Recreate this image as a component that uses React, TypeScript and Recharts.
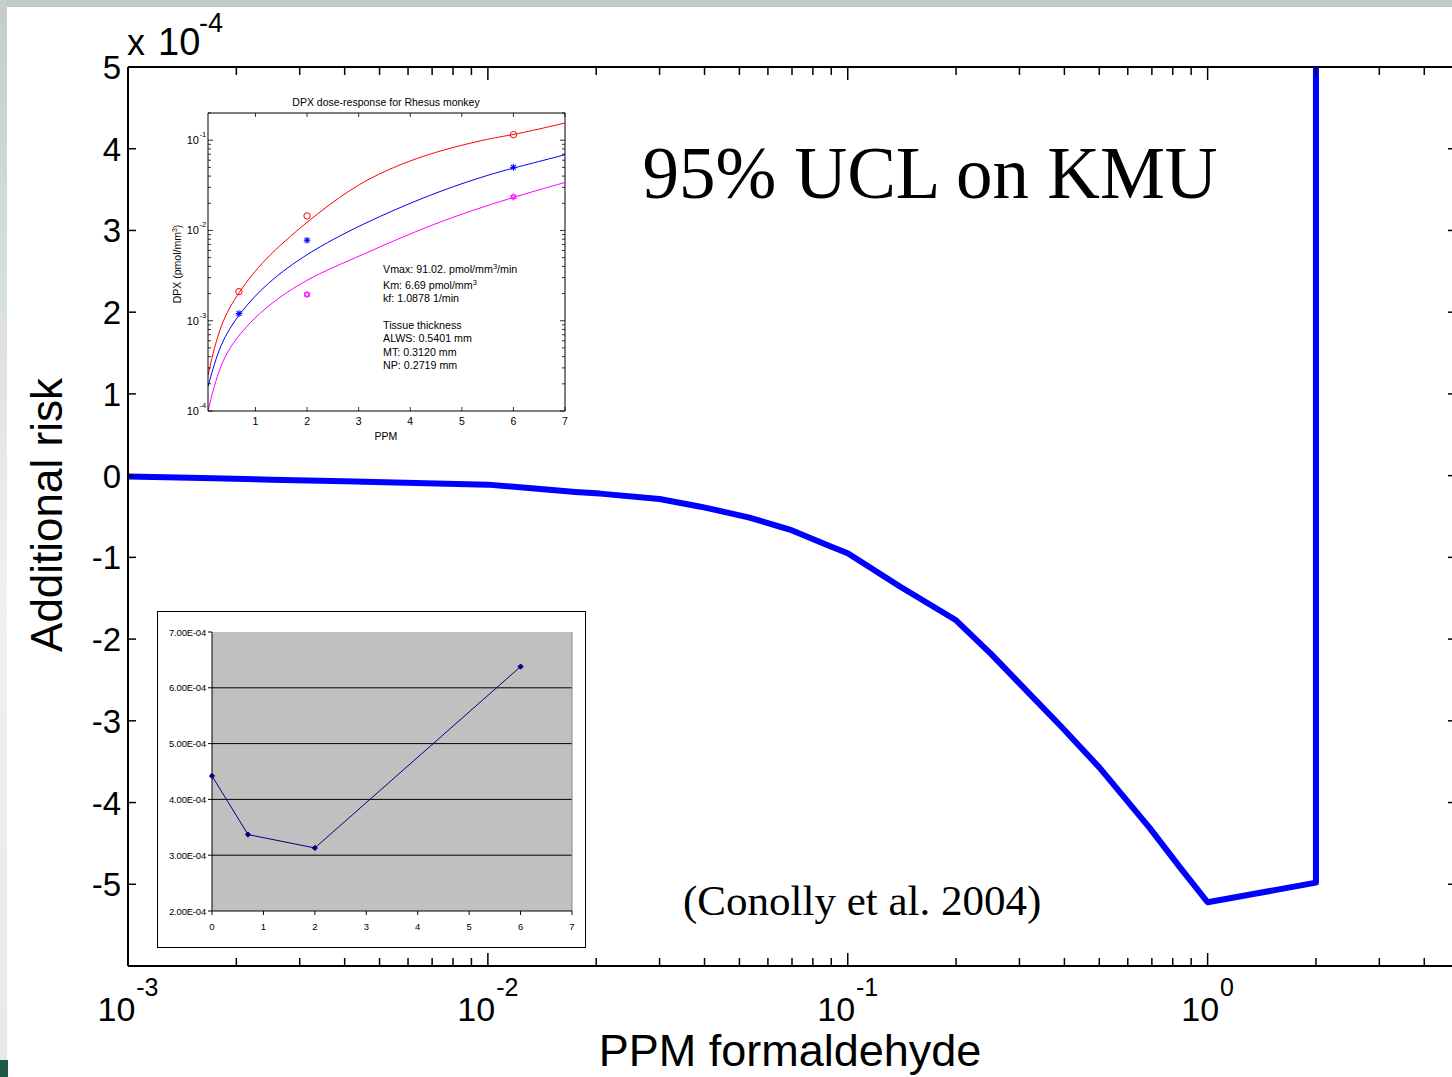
import React from 'react';
import { LineChart, Line, XAxis, YAxis, ReferenceLine, CartesianGrid } from 'recharts';

const SANS = '"Liberation Sans", Arial, Helvetica, sans-serif';
const SERIF = '"Liberation Serif", "Times New Roman", serif';

// ---------- Main chart data (risk in units of 1e-4) ----------
const doseX = [0.001, 0.0016, 0.0025, 0.004, 0.0063, 0.01, 0.013, 0.0175, 0.0205, 0.03, 0.039, 0.053, 0.069, 0.089, 0.1, 0.14, 0.2, 0.25, 0.32, 0.39, 0.5, 0.69, 0.84, 1, 2, 2];
const riskY = [-0.01, -0.03, -0.05, -0.07, -0.09, -0.11, -0.15, -0.2, -0.22, -0.285, -0.38, -0.51, -0.66, -0.86, -0.95, -1.36, -1.77, -2.18, -2.67, -3.06, -3.57, -4.31, -4.8, -5.22, -4.98, 5];
const mainYTicks = [-5, -4, -3, -2, -1, 0, 1, 2, 3, 4, 5];
const mainXTicks = [
  0.001, 0.002, 0.003, 0.004, 0.005, 0.006, 0.007, 0.008, 0.009,
  0.01, 0.02, 0.03, 0.04, 0.05, 0.06, 0.07, 0.08, 0.09,
  0.1, 0.2, 0.3, 0.4, 0.5, 0.6, 0.7, 0.8, 0.9,
  1, 2, 3, 4,
];

// ---------- Inset 1: DPX dose-response ----------
const redCurveX = [0.08, 0.31, 0.68, 1.15, 2, 2.86, 3.54, 4.44, 5.61, 6, 7];
const redCurveY = [0.00025, 0.00093, 0.0021, 0.0047, 0.0126, 0.0295, 0.047, 0.074, 0.107, 0.114, 0.155];
const blueCurveX = [0.08, 0.31, 0.68, 1.21, 2, 3.02, 4.44, 5.61, 6, 7];
const blueCurveY = [0.000186, 0.00056, 0.0012, 0.0026, 0.0056, 0.0115, 0.026, 0.043, 0.049, 0.069];
const magCurveX = [0.08, 0.31, 0.68, 1.21, 2, 3.02, 4.44, 6, 7];
const magCurveY = [0.0001, 0.00034, 0.00072, 0.00145, 0.00295, 0.0052, 0.012, 0.0235, 0.034];
const redMarkX = [0.68, 2, 6];
const redMarkY = [0.0021, 0.0145, 0.115];
const blueMarkX = [0.68, 2, 6];
const blueMarkY = [0.0012, 0.0078, 0.05];
const magMarkX = [2, 6];
const magMarkY = [0.00195, 0.0235];
const dpxYTicks = [
  0.0001, 0.0002, 0.0003, 0.0004, 0.0005, 0.0006, 0.0007, 0.0008, 0.0009,
  0.001, 0.002, 0.003, 0.004, 0.005, 0.006, 0.007, 0.008, 0.009,
  0.01, 0.02, 0.03, 0.04, 0.05, 0.06, 0.07, 0.08, 0.09,
  0.1, 0.2,
];
const dpxXTicks = [1, 2, 3, 4, 5, 6, 7];

// ---------- Inset 2: additional risk vs PPM ----------
const inset2X = [0, 0.7, 2, 6];
const inset2Y = [0.000442, 0.000337, 0.000313, 0.000638];
const inset2YTicks = [0.0002, 0.0003, 0.0004, 0.0005, 0.0006, 0.0007];
const inset2XTicks = [0, 1, 2, 3, 4, 5, 6, 7];

const zip = (xs: number[], ys: number[]) => xs.map((x, i) => ({ x, y: ys[i] }));
const mainData = doseX.map((x, i) => ({ x, risk: riskY[i] }));

// main geometry
const MAIN_W = 1460, MAIN_H = 1077;
const MAIN_M = { top: 67, right: 4, bottom: 110, left: 127 };
const MAIN_PW = MAIN_W - MAIN_M.left - 1 - MAIN_M.right;
const MAIN_PH = MAIN_H - MAIN_M.top - MAIN_M.bottom - 1;

const isDecade = (v: number) => {
  const lg = Math.log10(v);
  return Math.abs(lg - Math.round(lg)) < 1e-6;
};

const MainXTick = (props: any) => {
  const { x, y, payload } = props;
  const v = payload.value;
  const major = isDecade(v);
  const len = major ? 13 : 8;
  const exp = Math.round(Math.log10(v));
  const fs = 34, fe = 25;
  const expStr = String(exp);
  const wBase = 1.112 * fs;
  const wExp = (exp < 0 ? 0.333 : 0) * fe + 0.556 * fe * String(Math.abs(exp)).length;
  const total = wBase + 1 + wExp;
  const start = x - total / 2;
  return (
    <g>
      <line x1={x} x2={x} y1={y} y2={y - len} stroke="#000" strokeWidth={1.5} />
      <line x1={x} x2={x} y1={y - MAIN_PH} y2={y - MAIN_PH + len} stroke="#000" strokeWidth={1.5} />
      {major && (
        <g fontFamily={SANS} fill="#000">
          <text x={start} y={y + 55} fontSize={fs}>10</text>
          <text x={start + wBase + 1} y={y + 30} fontSize={fe}>{expStr}</text>
        </g>
      )}
    </g>
  );
};

const MainYTick = (props: any) => {
  const { x, y, payload } = props;
  return (
    <g>
      <line x1={x} x2={x + 8} y1={y} y2={y} stroke="#000" strokeWidth={1.5} />
      <line x1={x + MAIN_PW} x2={x + MAIN_PW - 8} y1={y} y2={y} stroke="#000" strokeWidth={1.5} />
      <text x={x - 7} y={y + 12} textAnchor="end" fontSize={33} fontFamily={SANS} fill="#000">
        {String(payload.value)}
      </text>
    </g>
  );
};

// inset 1 geometry
const I1_W = 420, I1_H = 360;
const I1_M = { top: 23, right: 15, bottom: 38, left: 47 };
const I1_PW = I1_W - I1_M.left - 1 - I1_M.right;
const I1_PH = I1_H - I1_M.top - I1_M.bottom - 1;

const DpxYTick = (props: any) => {
  const { x, y, payload } = props;
  const v = payload.value;
  const major = isDecade(v);
  const len = major ? 5 : 3;
  const exp = Math.round(Math.log10(v));
  return (
    <g>
      <line x1={x} x2={x + len} y1={y} y2={y} stroke="#000" strokeWidth={0.8} />
      <line x1={x + I1_PW} x2={x + I1_PW - len} y1={y} y2={y} stroke="#000" strokeWidth={0.8} />
      {major && (
        <g fontFamily={SANS} fill="#000">
          <text x={x - 9} y={y + 4} textAnchor="end" fontSize={11}>10</text>
          <text x={x - 8.5} y={y - 3} fontSize={7.5}>{String(exp)}</text>
        </g>
      )}
    </g>
  );
};

const DpxXTick = (props: any) => {
  const { x, y, payload } = props;
  return (
    <g>
      <line x1={x} x2={x} y1={y} y2={y - 4} stroke="#000" strokeWidth={0.8} />
      <line x1={x} x2={x} y1={y - I1_PH} y2={y - I1_PH + 4} stroke="#000" strokeWidth={0.8} />
      <text x={x} y={y + 14} textAnchor="middle" fontSize={10.5} fontFamily={SANS} fill="#000">
        {String(payload.value)}
      </text>
    </g>
  );
};

const CircleDot = (props: any) => {
  const { cx, cy } = props;
  if (cx == null || cy == null) return null;
  return <circle cx={cx} cy={cy} r={3.2} fill="none" stroke="#FF0000" strokeWidth={1} />;
};
const StarDot = (props: any) => {
  const { cx, cy } = props;
  if (cx == null || cy == null) return null;
  const r = 3.3, d = r * 0.72;
  return (
    <g stroke="#0000FF" strokeWidth={1.1}>
      <line x1={cx - r} x2={cx + r} y1={cy} y2={cy} />
      <line x1={cx} x2={cx} y1={cy - r} y2={cy + r} />
      <line x1={cx - d} x2={cx + d} y1={cy - d} y2={cy + d} />
      <line x1={cx - d} x2={cx + d} y1={cy + d} y2={cy - d} />
    </g>
  );
};
const HexDot = (props: any) => {
  const { cx, cy } = props;
  if (cx == null || cy == null) return null;
  const r = 3.4;
  const tri = (rot: number) =>
    [0, 1, 2]
      .map((k) => {
        const a = rot + (k * 2 * Math.PI) / 3;
        return `${cx + r * Math.sin(a)},${cy - r * Math.cos(a)}`;
      })
      .join(' ');
  return (
    <g stroke="#FF00FF" strokeWidth={0.9} fill="none">
      <polygon points={tri(0)} />
      <polygon points={tri(Math.PI)} />
    </g>
  );
};

// inset 2 geometry
const I2_W = 429, I2_H = 337;
const I2_M = { top: 21, right: 14, bottom: 36, left: 54 };

const fmtE = (v: number) => {
  const e = Math.floor(Math.log10(v) + 1e-9);
  const m = v / Math.pow(10, e);
  return `${m.toFixed(2)}E${e < 0 ? '-' : '+'}${String(Math.abs(e)).padStart(2, '0')}`;
};

const I2YTick = (props: any) => {
  const { x, y, payload } = props;
  return (
    <g>
      <line x1={x} x2={x - 4} y1={y} y2={y} stroke="#000" strokeWidth={1} />
      <text x={x - 6} y={y + 3.5} textAnchor="end" fontSize={9.5} fontFamily={SANS} fill="#000" letterSpacing={-0.2}>
        {fmtE(payload.value)}
      </text>
    </g>
  );
};
const I2XTick = (props: any) => {
  const { x, y, payload } = props;
  return (
    <g>
      <line x1={x} x2={x} y1={y} y2={y + 4} stroke="#000" strokeWidth={1} />
      <text x={x} y={y + 19} textAnchor="middle" fontSize={9.5} fontFamily={SANS} fill="#000">
        {String(payload.value)}
      </text>
    </g>
  );
};
const DiamondDot = (props: any) => {
  const { cx, cy } = props;
  if (cx == null || cy == null) return null;
  const r = 2.6;
  return <polygon points={`${cx},${cy - r} ${cx + r},${cy} ${cx},${cy + r} ${cx - r},${cy}`} fill="#000080" stroke="#000080" />;
};

export default function App() {
  return (
    <div style={{ position: 'absolute', left: 0, top: 0, width: 1452, height: 1077, overflow: 'hidden', background: '#fff' }}>
      {/* slide decorations */}
      <div style={{ position: 'absolute', left: 0, top: 0, width: 1452, height: 7, background: '#BFCBC5' }} />
      <div style={{ position: 'absolute', left: 0, top: 0, width: 7, height: 1077, background: 'linear-gradient(#C3CEC8, #EEF2F0 55%, #E4EAE7)' }} />
      <div style={{ position: 'absolute', left: 0, top: 1060, width: 8, height: 17, background: '#1E5A43' }} />

      {/* main chart */}
      <div style={{ position: 'absolute', left: 0, top: 0 }}>
        <LineChart width={MAIN_W} height={MAIN_H} data={mainData} margin={MAIN_M}>
          <XAxis
            dataKey="x"
            type="number"
            scale="log"
            domain={[0.001, 4.9]}
            allowDataOverflow
            ticks={mainXTicks}
            interval={0}
            tickSize={0}
            tickMargin={0}
            height={1}
            axisLine={{ stroke: '#000', strokeWidth: 2 }}
            tickLine={false}
            tick={(p: any) => <MainXTick {...p} />}
          />
          <YAxis
            type="number"
            domain={[-6, 5]}
            allowDataOverflow
            ticks={mainYTicks}
            interval={0}
            tickSize={0}
            tickMargin={0}
            width={1}
            axisLine={{ stroke: '#000', strokeWidth: 2 }}
            tickLine={false}
            tick={(p: any) => <MainYTick {...p} />}
          />
          <ReferenceLine y={5} stroke="#000" strokeWidth={2} />
          <Line dataKey="risk" type="linear" stroke="#0000FF" strokeWidth={6} strokeLinejoin="round" dot={false} isAnimationActive={false} />
        </LineChart>
      </div>

      {/* inset 1 */}
      <div style={{ position: 'absolute', left: 160, top: 90, background: '#fff' }}>
        <LineChart width={I1_W} height={I1_H} margin={I1_M}>
          <XAxis
            dataKey="x"
            type="number"
            domain={[0.08, 7]}
            allowDataOverflow
            ticks={dpxXTicks}
            interval={0}
            tickSize={0}
            tickMargin={0}
            height={1}
            axisLine={{ stroke: '#000', strokeWidth: 1 }}
            tickLine={false}
            tick={(p: any) => <DpxXTick {...p} />}
          />
          <YAxis
            type="number"
            scale="log"
            domain={[0.0001, 0.2]}
            allowDataOverflow
            ticks={dpxYTicks}
            interval={0}
            tickSize={0}
            tickMargin={0}
            width={1}
            axisLine={{ stroke: '#000', strokeWidth: 1 }}
            tickLine={false}
            tick={(p: any) => <DpxYTick {...p} />}
          />
          <ReferenceLine y={0.2} stroke="#000" strokeWidth={1} />
          <ReferenceLine x={7} stroke="#000" strokeWidth={1} />
          <Line data={zip(redCurveX, redCurveY)} dataKey="y" type="basis" stroke="#FF0000" strokeWidth={1} dot={false} isAnimationActive={false} />
          <Line data={zip(blueCurveX, blueCurveY)} dataKey="y" type="basis" stroke="#0000FF" strokeWidth={1} dot={false} isAnimationActive={false} />
          <Line data={zip(magCurveX, magCurveY)} dataKey="y" type="basis" stroke="#FF00FF" strokeWidth={1} dot={false} isAnimationActive={false} />
          <Line data={zip(redMarkX, redMarkY)} dataKey="y" stroke="none" dot={(p: any) => <CircleDot key={`r${p.index}`} {...p} />} isAnimationActive={false} />
          <Line data={zip(blueMarkX, blueMarkY)} dataKey="y" stroke="none" dot={(p: any) => <StarDot key={`b${p.index}`} {...p} />} isAnimationActive={false} />
          <Line data={zip(magMarkX, magMarkY)} dataKey="y" stroke="none" dot={(p: any) => <HexDot key={`m${p.index}`} {...p} />} isAnimationActive={false} />
        </LineChart>
      </div>

      {/* inset 2 */}
      <div style={{ position: 'absolute', left: 157, top: 611, width: I2_W, height: I2_H, background: '#fff', border: '1.5px solid #000', boxSizing: 'border-box' }} />
      <div style={{ position: 'absolute', left: 157, top: 611 }}>
        <LineChart width={I2_W} height={I2_H} data={zip(inset2X, inset2Y)} margin={I2_M}>
          <CartesianGrid vertical={false} fill="#C0C0C0" stroke="#000" strokeWidth={1} horizontalValues={[0.0003, 0.0004, 0.0005, 0.0006]} />
          <XAxis
            dataKey="x"
            type="number"
            domain={[0, 7]}
            ticks={inset2XTicks}
            interval={0}
            tickSize={0}
            tickMargin={0}
            height={1}
            axisLine={{ stroke: '#000', strokeWidth: 1 }}
            tickLine={false}
            tick={(p: any) => <I2XTick {...p} />}
          />
          <YAxis
            type="number"
            domain={[0.0002, 0.0007]}
            ticks={inset2YTicks}
            interval={0}
            tickSize={0}
            tickMargin={0}
            width={1}
            axisLine={{ stroke: '#000', strokeWidth: 1 }}
            tickLine={false}
            tick={(p: any) => <I2YTick {...p} />}
          />
          <ReferenceLine x={7} stroke="#8A8A8A" strokeWidth={1} />
          <Line dataKey="y" type="linear" stroke="#000080" strokeWidth={1} dot={(p: any) => <DiamondDot key={`d${p.index}`} {...p} />} isAnimationActive={false} />
        </LineChart>
      </div>

      {/* text overlay */}
      <svg width={1452} height={1077} style={{ position: 'absolute', left: 0, top: 0, pointerEvents: 'none', whiteSpace: 'pre' }}>
        <g fontFamily={SANS} fill="#000">
          <text x={127} y={55} fontSize={36}>x</text>
          <text x={158} y={55} fontSize={38}>10</text>
          <text x={199} y={32} fontSize={27}>-4</text>
          <text transform="translate(62,515) rotate(-90)" textAnchor="middle" fontSize={44}>Additional risk</text>
          <text x={790} y={1066} textAnchor="middle" fontSize={45}>PPM formaldehyde</text>

          <text x={386} y={106} textAnchor="middle" fontSize={10.5}>DPX dose-response for Rhesus monkey</text>
          <text x={386} y={440} textAnchor="middle" fontSize={10.5}>PPM</text>
          <text transform="translate(181,264) rotate(-90)" textAnchor="middle" fontSize={10.5}>
            DPX (pmol/mm<tspan dy={-4} fontSize={7}>3</tspan><tspan dy={4}>)</tspan>
          </text>
          <g fontSize={10.7}>
            <text x={383} y={273}>Vmax:  91.02. pmol/mm<tspan dy={-4} fontSize={7.5}>3</tspan><tspan dy={4}>/min</tspan></text>
            <text x={383} y={289}>Km: 6.69 pmol/mm<tspan dy={-4} fontSize={7.5}>3</tspan></text>
            <text x={383} y={302}>kf:  1.0878 1/min</text>
            <text x={383} y={329}>Tissue thickness</text>
            <text x={383} y={342}>ALWS:  0.5401 mm</text>
            <text x={383} y={356}>MT:  0.3120 mm</text>
            <text x={383} y={369}>NP:  0.2719 mm</text>
          </g>
        </g>
        <g fontFamily={SERIF} fill="#000">
          <text x={930} y={198} textAnchor="middle" fontSize={73}>95% UCL on KMU</text>
          <text x={683} y={915} fontSize={43}>(Conolly et al. 2004)</text>
        </g>
      </svg>
    </div>
  );
}
